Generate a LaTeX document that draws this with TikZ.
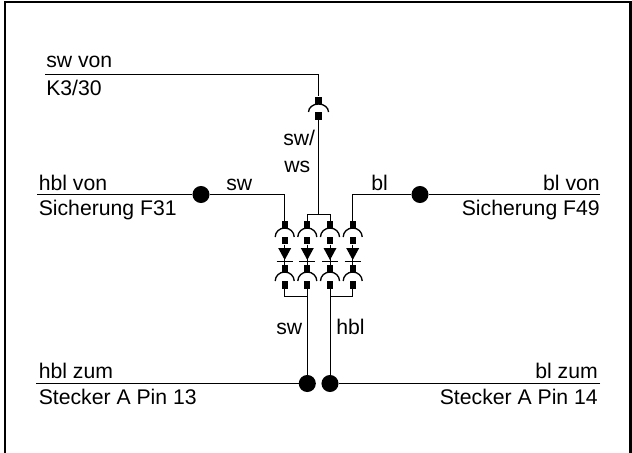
\documentclass[tikz,border=0pt]{standalone}
\usepackage{fontspec}
\setmainfont{Liberation Sans}
\tikzset{
    wire/.style={draw=black,line width=0.7pt},
    bowl/.style={draw=black,line width=1pt},
    frameline/.style={draw=black,line width=1.8pt},
    blob/.style={circle,fill=black,inner sep=0pt,minimum size=12.8pt},
    pinbox/.style={rectangle,fill=black,inner sep=0pt,minimum width=4.6pt,minimum height=5.8pt},
    lbl/.style={font=\fontsize{15.9pt}{18pt}\selectfont,inner sep=0pt},
    lblw/.style={lbl,anchor=base west},
    lble/.style={lbl,anchor=base east}
}
\begin{document}
\begin{tikzpicture}[x=0.75pt,y=-0.75pt]
    \useasboundingbox (0,0) rectangle (632,453);
    % frame, open at the bottom
    \draw[frameline] (5,453) -- (5,2) -- (630.5,2) -- (630.5,453);

    % top plug
    \node[pinbox] (topsock) at (318.5,100.5) {};
    \node[pinbox] (toppin) at (318.5,116) {};
    \draw[bowl] (318.5-10,112) arc (180:360:10 and 8);

    % the four columns
    \foreach \n/\x in {1/284.7,2/307.3,3/330,4/352.7} {
        \node[pinbox] (usock\n) at (\x,225) {};
        \node[pinbox] (upin\n) at (\x,240.5) {};
        \node[pinbox] (lsock\n) at (\x,269) {};
        \node[pinbox] (lpin\n) at (\x,285) {};
        \draw[bowl] (\x-9.5,237) arc (180:360:9.5 and 9);
        \draw[bowl] (\x-9.5,281) arc (180:360:9.5 and 9);
        \fill (\x-6.5,248) -- (\x+6.5,248) -- (\x,260) -- cycle;
        \draw[wire] (\x-8,261) -- (\x+8,261);
        \draw[wire] (upin\n) -- (lsock\n);
    }

    % dots
    \node[blob] (dotl) at (201,194.5) {};
    \node[blob] (dotr) at (420,194.5) {};
    \node[blob] (dotsw) at (307.3,383.5) {};
    \node[blob] (dothbl) at (330,383.5) {};

    % wire ends
    \coordinate (topl) at (45,74);
    \coordinate (midl) at (37,194.5);
    \coordinate (midr) at (600,194.5);
    \coordinate (botl) at (36,383.5);
    \coordinate (botr) at (600,383.5);
    \coordinate (tee) at (318.5,214.3);

    \draw[wire] (topl) -| (topsock);
    \draw[wire] (toppin) -- (tee);
    \draw[wire] (usock2) |- (tee) -| (usock3);
    \draw[wire] (midl) -- (dotl);
    \draw[wire] (dotl) -| (usock1);
    \draw[wire] (midr) -- (dotr);
    \draw[wire] (dotr) -| (usock4);
    \draw[wire] (lpin1) |- (dotsw |- 0,296.7);
    \draw[wire] (lpin2) -- (dotsw);
    \draw[wire] (lpin4) |- (dothbl |- 0,296.7);
    \draw[wire] (lpin3) -- (dothbl);
    \draw[wire] (botl) -- (dotsw);
    \draw[wire] (botr) -- (dothbl);

    % labels
    \node[lblw] (swvon) at (46,68) {sw von};
    \node[lblw] (kdrei) at (46,95) {K3/30};
    \node[lblw] (swws) at (283,146) {sw/};
    \node[lblw] (ws) at (284,172) {ws};
    \node[lblw] (hblvon) at (38.5,190) {hbl von};
    \node[lblw] (sichl) at (38.5,215) {Sicherung F31};
    \node[lblw] (swmid) at (226,190) {sw};
    \node[lblw] (blmid) at (371,190) {bl};
    \node[lble] (blvon) at (600,190) {bl von};
    \node[lble] (sichr) at (600,215) {Sicherung F49};
    \node[lblw] (swlow) at (276,334) {sw};
    \node[lblw] (hbllow) at (336,334) {hbl};
    \node[lblw] (hblzum) at (38.5,378) {hbl zum};
    \node[lblw] (steckl) at (38.5,404) {Stecker A Pin 13};
    \node[lble] (blzum) at (598,378) {bl zum};
    \node[lble] (steckr) at (598,404) {Stecker A Pin 14};
\end{tikzpicture}
\end{document}
